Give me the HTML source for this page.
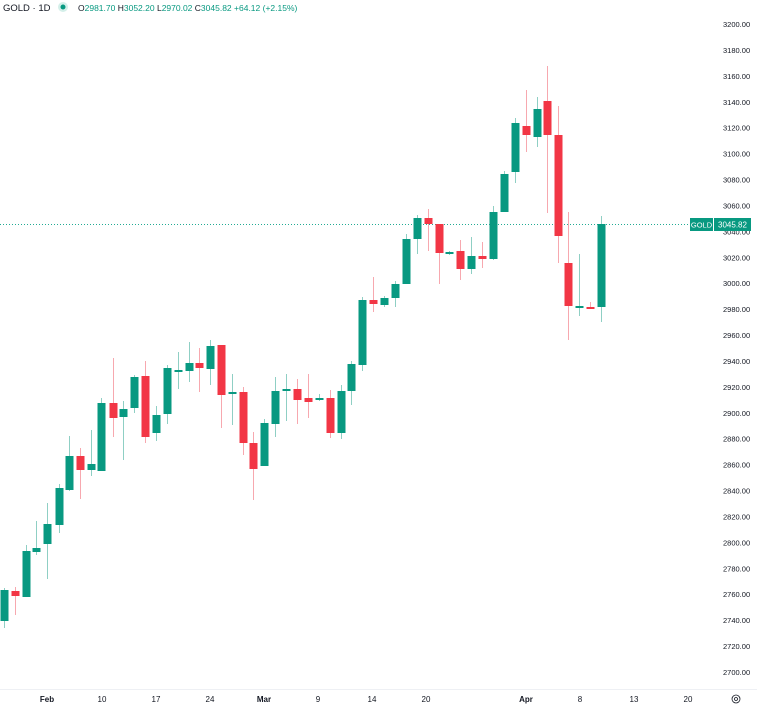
<!DOCTYPE html>
<html><head><meta charset="utf-8"><style>
html,body{margin:0;padding:0;background:#fff;width:757px;height:706px;overflow:hidden}
svg{display:block;font-family:"Liberation Sans",sans-serif}
</style></head><body>
<svg id="s" width="757" height="706" xmlns="http://www.w3.org/2000/svg">
<line x1="0" y1="689.5" x2="757" y2="689.5" stroke="#eef0f4" stroke-width="1"/>
<line x1="0" y1="224.5" x2="690" y2="224.5" stroke="#22ab94" stroke-width="1" stroke-dasharray="1,2"/>
<g id="c"></g>
<g id="ax" font-size="8" fill="#131722"></g>
<rect x="690" y="218" width="23" height="13" fill="#089981"/>
<text x="701.5" y="227.5" font-size="7.5" fill="#fff" text-anchor="middle">GOLD</text>
<rect x="714" y="218" width="37" height="13" fill="#089981"/>
<text x="732.5" y="227.5" font-size="8" fill="#fff" text-anchor="middle">3045.82</text>
<text x="3" y="11" font-size="9.5" fill="#131722">GOLD · 1D</text>
<circle cx="63" cy="7" r="5" fill="#d4efe9"/><circle cx="63" cy="7" r="2.5" fill="#089981"/>
<text x="78" y="11" font-size="8.5" fill="#131722">O<tspan fill="#089981">2981.70</tspan> H<tspan fill="#089981">3052.20</tspan> L<tspan fill="#089981">2970.02</tspan> C<tspan fill="#089981">3045.82</tspan> <tspan fill="#089981">+64.12 (+2.15%)</tspan></text>
<circle cx="736" cy="699" r="4" fill="none" stroke="#131722" stroke-width="0.8"/><circle cx="736" cy="699" r="1.5" fill="none" stroke="#131722" stroke-width="0.8"/>
</svg>
<script>
var d=[[4,590,621,588,628,1],[15,591,596,587,615,0],[26,551,597,545,597,1],[36,548,552,521,555,1],[47,524,544,503,579,1],[59,488,525,484,533,1],[69,456,490,436,491,1],[80,456,470,448,499,0],[91,464,470,430,476,1],[101,403,471,398,471,1],[113,403,418,358,437,0],[123,409,417,401,460,1],[134,377,408,375,413,1],[145,376,437,361,443,0],[156,415,433,406,441,1],[167,368,414,365,424,1],[178,370,371,352,389,1],[189,363,371,342,382,1],[199,363,368,348,392,0],[210,346,369,340,385,1],[221,345,395,345,428,0],[232,392,394,374,425,1],[243,392,443,387,455,0],[253,443,469,432,500,0],[264,423,466,419,466,1],[275,391,424,377,437,1],[286,389,391,374,421,1],[297,389,400,379,424,0],[308,398,402,374,418,0],[319,398,399,394,401,1],[330,398,433,390,438,0],[341,391,433,385,439,1],[351,364,391,361,405,1],[362,300,365,297,371,1],[373,300,304,277,312,0],[384,298,305,296,307,1],[395,284,298,281,307,1],[406,239,284,234,284,1],[417,218,239,215,254,1],[428,218,224,209,251,0],[439,224,253,224,284,0],[449,252,254,251,255,1],[460,251,269,240,280,0],[471,256,269,237,274,1],[482,256,259,242,268,0],[493,212,259,206,260,1],[504,174,212,171,212,1],[515,123,172,118,183,1],[526,126,135,90,152,0],[537,109,137,97,147,1],[547,101,135,66,213,0],[558,135,236,106,263,0],[568,263,306,212,340,0],[579,306,307,254,316,1],[590,307,308,302,309,0],[601,224,307,216,322,1]];
var h='';
d.forEach(function(c){var col=c[5]?'#089981':'#f23645';var wc=c[5]?'#8fcfc4':'#f7a8af';
h+='<line x1="'+(c[0]+0.5)+'" y1="'+c[3]+'" x2="'+(c[0]+0.5)+'" y2="'+c[4]+'" stroke="'+wc+'" stroke-width="1"/>';
var hh=Math.max(2,c[2]-c[1]);h+='<rect x="'+(c[0]-3.5)+'" y="'+c[1]+'" width="8" height="'+hh+'" fill="'+col+'"/>';});
document.getElementById('c').innerHTML=h;
var a='';for(var p=3200;p>=2700;p-=20){var y=24+(3200-p)*1.296;a+='<text x="723" y="'+(y+3)+'" font-size="7.5">'+p+'.00</text>';}
var xl=[[47,'Feb',1],[102,'10'],[156,'17'],[210,'24'],[264,'Mar',1],[318,'9'],[372,'14'],[426,'20'],[526,'Apr',1],[580,'8'],[634,'13'],[688,'20']];
xl.forEach(function(l){a+='<text x="'+l[0]+'" y="702" font-size="8" text-anchor="middle"'+(l[2]?' font-weight="bold"':'')+'>'+l[1]+'</text>';});
document.getElementById('ax').innerHTML=a;
</script>
</body></html>
